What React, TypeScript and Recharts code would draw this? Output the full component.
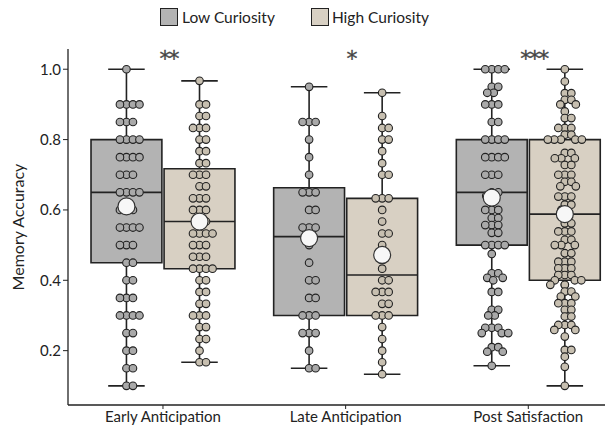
import React from 'react';
import {
  ComposedChart,
  Scatter,
  XAxis,
  YAxis,
  ReferenceArea,
  ReferenceLine,
  ReferenceDot,
} from 'recharts';

const categories = ['Early Anticipation', 'Late Anticipation', 'Post Satisfaction'];
const significance = ['**', '*', '***'];
const groupNames = ['Low Curiosity', 'High Curiosity'];

// box stats: [min, q1, median, q3, max]
const lowBoxes = [
  [0.1, 0.45, 0.65, 0.8, 1.0],
  [0.15, 0.3, 0.524, 0.663, 0.95],
  [0.157, 0.5, 0.65, 0.8, 1.0],
];
const highBoxes = [
  [0.167, 0.433, 0.567, 0.717, 0.967],
  [0.133, 0.3, 0.415, 0.633, 0.933],
  [0.1, 0.4, 0.588, 0.8, 1.0],
];
const lowMeans = [0.61, 0.52, 0.635];
const highMeans = [0.567, 0.472, 0.588];

// per-subject accuracy
const earlyLow = [
  1.0, 0.9, 0.9, 0.9, 0.9, 0.85, 0.85, 0.85, 0.8, 0.8, 0.8, 0.8, 0.75, 0.75, 0.75, 0.75,
  0.7, 0.7, 0.7, 0.65, 0.65, 0.65, 0.65, 0.6, 0.6, 0.6, 0.55, 0.55, 0.55, 0.55, 0.5, 0.5,
  0.5, 0.45, 0.45, 0.4, 0.4, 0.35, 0.35, 0.35, 0.3, 0.3, 0.3, 0.3, 0.25, 0.25, 0.2, 0.2,
  0.15, 0.15, 0.1, 0.1,
];
const earlyHigh = [
  0.967, 0.9, 0.9, 0.867, 0.867, 0.833, 0.833, 0.833, 0.8, 0.8, 0.767, 0.767, 0.733, 0.733,
  0.7, 0.7, 0.7, 0.667, 0.667, 0.633, 0.633, 0.633, 0.6, 0.6, 0.6, 0.567, 0.567, 0.533,
  0.533, 0.533, 0.533, 0.5, 0.5, 0.5, 0.467, 0.467, 0.467, 0.433, 0.433, 0.433, 0.433, 0.4,
  0.4, 0.367, 0.367, 0.333, 0.333, 0.3, 0.3, 0.3, 0.267, 0.267, 0.233, 0.233, 0.2, 0.167,
  0.167,
];
const lateLow = [
  0.95, 0.85, 0.85, 0.85, 0.8, 0.75, 0.7, 0.65, 0.65, 0.65, 0.6, 0.6, 0.55, 0.55, 0.55, 0.5,
  0.45, 0.4, 0.4, 0.35, 0.35, 0.3, 0.3, 0.3, 0.25, 0.25, 0.25, 0.2, 0.15, 0.15,
];
const lateHigh = [
  0.933, 0.867, 0.833, 0.833, 0.8, 0.8, 0.767, 0.733, 0.7, 0.7, 0.633, 0.633, 0.633, 0.6,
  0.567, 0.533, 0.533, 0.5, 0.467, 0.433, 0.4, 0.4, 0.367, 0.367, 0.367, 0.333, 0.333, 0.3,
  0.3, 0.3, 0.267, 0.233, 0.2, 0.167, 0.133,
];
const postLow = [
  1.0, 1.0, 1.0, 1.0, 0.95, 0.95, 0.933, 0.933, 0.9, 0.9, 0.9, 0.85, 0.85, 0.8, 0.8, 0.8,
  0.8, 0.75, 0.75, 0.75, 0.75, 0.7, 0.7, 0.7, 0.65, 0.65, 0.64, 0.62, 0.6, 0.6, 0.6, 0.577,
  0.577, 0.557, 0.557, 0.557, 0.535, 0.535, 0.5, 0.5, 0.5, 0.5, 0.475, 0.42, 0.42, 0.407,
  0.407, 0.4, 0.367, 0.367, 0.316, 0.316, 0.3, 0.3, 0.265, 0.265, 0.265, 0.25, 0.25, 0.25,
  0.21, 0.21, 0.197, 0.197, 0.157,
];
const postHigh = [
  1.0, 0.965, 0.932, 0.932, 0.913, 0.913, 0.9, 0.9, 0.88, 0.861, 0.861, 0.833, 0.833, 0.833,
  0.814, 0.814, 0.8, 0.8, 0.8, 0.8, 0.8, 0.762, 0.762, 0.747, 0.747, 0.747, 0.728, 0.728,
  0.7, 0.7, 0.7, 0.68, 0.68, 0.667, 0.667, 0.638, 0.638, 0.638, 0.615, 0.615, 0.6, 0.59,
  0.562, 0.562, 0.539, 0.539, 0.539, 0.515, 0.515, 0.5, 0.5, 0.5, 0.477, 0.477, 0.453,
  0.453, 0.453, 0.434, 0.434, 0.434, 0.415, 0.415, 0.415, 0.4, 0.4, 0.4, 0.387, 0.387,
  0.387, 0.368, 0.368, 0.354, 0.354, 0.335, 0.335, 0.335, 0.316, 0.316, 0.297, 0.297,
  0.273, 0.273, 0.273, 0.259, 0.259, 0.24, 0.202, 0.202, 0.183, 0.154, 0.1,
];

const lowValues = [earlyLow, lateLow, postLow];
const highValues = [earlyHigh, lateHigh, postHigh];

const FONT = 'Lato, "Open Sans", sans-serif';
const INK = '#222';
const LOW_FILL = '#b3b3b3';
const HIGH_FILL = '#d8d0c3';
const LOW_DOT = '#a9a9a9';
const HIGH_DOT = '#c7bfb0';

const OFFSET = 0.2; // group centre offset from category centre
const HALF_BOX = 0.194;
const HALF_CAP = 0.1;

// rough pixel sizes of one unit, only used to spread the dots like a beeswarm
const PX_X = 182.6;
const PX_Y = 351.8;
const DOT_GAP = 6.2;

function swarm(values: number[], cx: number) {
  const placed: { px: number; py: number }[] = [];
  return values.map((v) => {
    const py = v * PX_Y;
    let px = 0;
    for (let k = 0; k < 80; k++) {
      const cand = k === 0 ? 0 : (k % 2 ? 1 : -1) * Math.ceil(k / 2) * 0.5;
      const ok = placed.every((p) => (p.px - cand) ** 2 + (p.py - py) ** 2 >= DOT_GAP * DOT_GAP);
      if (ok) {
        px = cand;
        break;
      }
    }
    placed.push({ px, py });
    return { x: cx + px / PX_X, y: v };
  });
}

const dot = (fill: string) => (p: any) =>
  <circle cx={p.cx} cy={p.cy} r={3.8} fill={fill} stroke={INK} strokeWidth={1.1} />;

const meanDot = (p: any) =>
  <circle cx={p.cx} cy={p.cy} r={8.5} fill="#f7f7f7" stroke="#333" strokeWidth={1.2} />;

function Box({ cx, stats, fill }: { cx: number; stats: number[]; fill: string }) {
  const [mn, q1, med, q3, mx] = stats;
  return [
    <ReferenceLine key="wl" segment={[{ x: cx, y: mn }, { x: cx, y: q1 }]} stroke={INK} strokeWidth={1.6} zIndex={150} />,
    <ReferenceLine key="wh" segment={[{ x: cx, y: q3 }, { x: cx, y: mx }]} stroke={INK} strokeWidth={1.6} zIndex={150} />,
    <ReferenceLine key="cl" segment={[{ x: cx - HALF_CAP, y: mn }, { x: cx + HALF_CAP, y: mn }]} stroke={INK} strokeWidth={1.6} zIndex={150} />,
    <ReferenceLine key="ch" segment={[{ x: cx - HALF_CAP, y: mx }, { x: cx + HALF_CAP, y: mx }]} stroke={INK} strokeWidth={1.6} zIndex={150} />,
    <ReferenceArea key="b" x1={cx - HALF_BOX} x2={cx + HALF_BOX} y1={q1} y2={q3} fill={fill} fillOpacity={1} stroke={INK} strokeWidth={1.6} zIndex={100} />,
    <ReferenceLine key="m" segment={[{ x: cx - HALF_BOX, y: med }, { x: cx + HALF_BOX, y: med }]} stroke={INK} strokeWidth={1.6} zIndex={150} />,
  ];
}

export default function App() {
  const centers = categories.map((_, i) => i + 0.5);
  return (
    <div style={{ position: 'absolute', left: 0, top: 0, width: 611, height: 434, background: '#fff', fontFamily: FONT }}>
      <div style={{ position: 'absolute', top: 8, left: 160, display: 'flex', alignItems: 'center', fontSize: 15.5, color: INK }}>
        <span style={{ width: 16, height: 16, background: LOW_FILL, border: `1.5px solid ${INK}`, marginRight: 4 }} />
        <span>{groupNames[0]}</span>
        <span style={{ width: 16, height: 16, background: HIGH_FILL, border: `1.5px solid ${INK}`, marginLeft: 36, marginRight: 3 }} />
        <span>{groupNames[1]}</span>
      </div>
      <ComposedChart width={611} height={434} margin={{ top: 49, right: 6, bottom: 0, left: 10 }}>
        <XAxis
          type="number"
          dataKey="x"
          domain={[-0.02, 2.92]}
          allowDataOverflow
          ticks={centers}
          interval={0}
          tickFormatter={(v: number) => categories[Math.round(v - 0.5)]}
          height={29}
          tickSize={4}
          tick={{ fill: INK, fontSize: 15, fontFamily: FONT }}
          axisLine={{ stroke: INK, strokeWidth: 1.3 }}
          tickLine={{ stroke: INK }}
        />
        <YAxis
          type="number"
          dataKey="y"
          domain={[0.0455, 1.0575]}
          allowDataOverflow
          ticks={[0.2, 0.4, 0.6, 0.8, 1.0]}
          tickFormatter={(v: number) => v.toFixed(1)}
          width={58}
          tickSize={5}
          tick={{ fill: INK, fontSize: 15, fontFamily: FONT }}
          axisLine={{ stroke: INK, strokeWidth: 1.3 }}
          tickLine={{ stroke: INK }}
          label={{
            value: 'Memory Accuracy',
            angle: -90,
            position: 'insideLeft',
            offset: 8,
            style: { textAnchor: 'middle', fill: INK, fontSize: 16, fontFamily: FONT },
          }}
        />
        {centers.map((c, i) => Box({ cx: c - OFFSET, stats: lowBoxes[i], fill: LOW_FILL }))}
        {centers.map((c, i) => Box({ cx: c + OFFSET, stats: highBoxes[i], fill: HIGH_FILL }))}
        {centers.map((c, i) => (
          <Scatter key={`lo${i}`} data={swarm(lowValues[i], c - OFFSET)} dataKey="y" shape={dot(LOW_DOT)} isAnimationActive={false} zIndex={600} />
        ))}
        {centers.map((c, i) => (
          <Scatter key={`hi${i}`} data={swarm(highValues[i], c + OFFSET)} dataKey="y" shape={dot(HIGH_DOT)} isAnimationActive={false} zIndex={600} />
        ))}
        <Scatter
          data={centers.flatMap((c, i) => [
            { x: c - OFFSET, y: lowMeans[i] },
            { x: c + OFFSET, y: highMeans[i] },
          ])}
          dataKey="y"
          shape={meanDot}
          isAnimationActive={false}
          zIndex={650}
        />
        {centers.map((c, i) => (
          <ReferenceDot
            key={`s${i}`}
            x={c + 0.03}
            y={1.03}
            r={0}
            fill="none"
            stroke="none"
            label={{
              value: significance[i],
              position: 'center',
              fill: '#444',
              stroke: '#444',
              strokeWidth: 0.3,
              fontSize: 22,
              fontFamily: '"DejaVu Sans", sans-serif',
              letterSpacing: -2,
            }}
          />
        ))}
      </ComposedChart>
    </div>
  );
}
